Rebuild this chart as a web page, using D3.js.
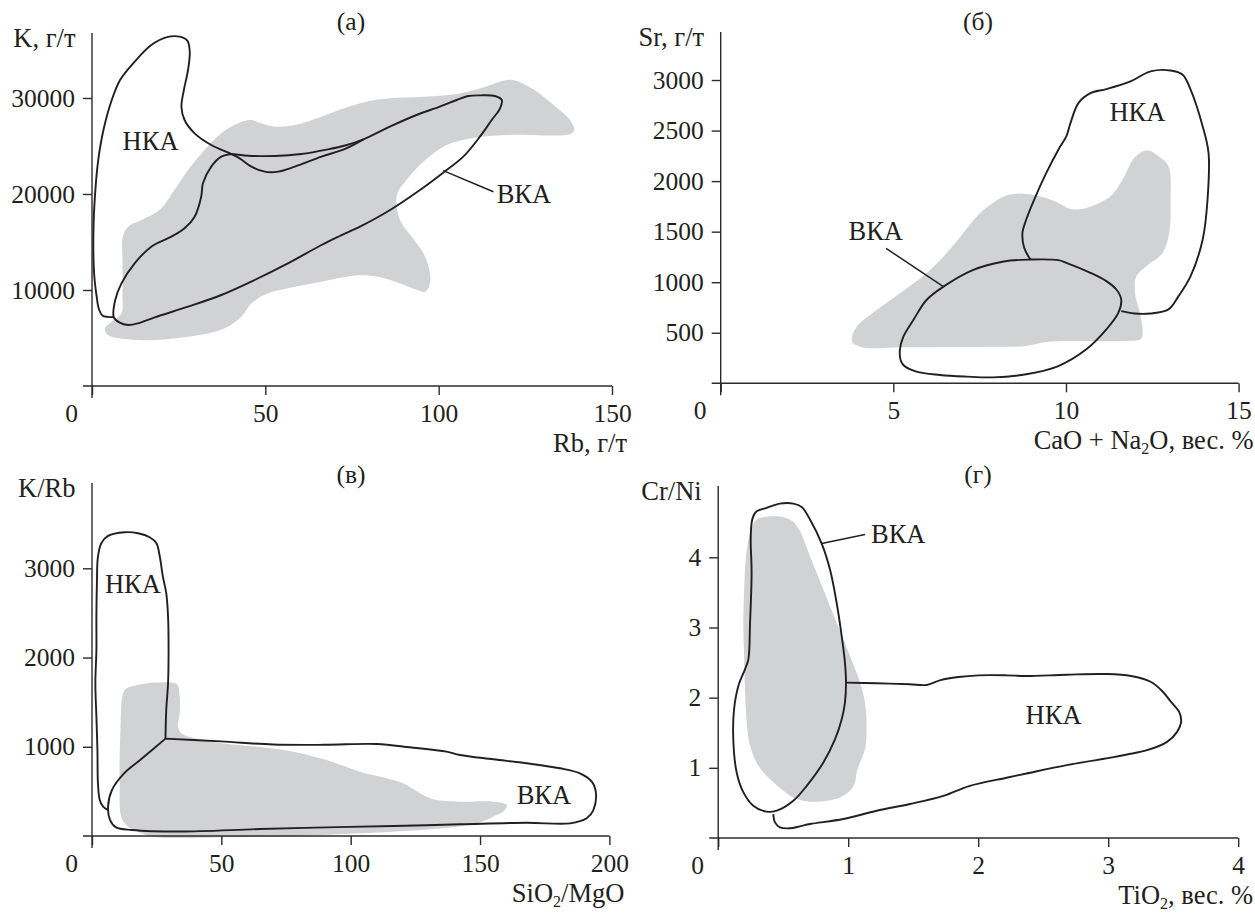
<!DOCTYPE html>
<html>
<head>
<meta charset="utf-8">
<script src="https://cdn.jsdelivr.net/npm/d3@7"></script>
<style>
  body { margin: 0; background: #fff; }
  svg, svg text { font-family: "Liberation Serif", Tinos, "DejaVu Serif", serif !important; }
  svg text { fill: #231f20; }
</style>
</head>
<body>
<svg id="chart" width="1255" height="913" font-family="Liberation Serif, serif"></svg>
<script>
// ---------- panel (а): K vs Rb ----------
var aXTicks = [0, 50, 100, 150];
var aYTicks = [10000, 20000, 30000];
var aGray = [[3.7,6006],[4.6,5312],[10.4,4861],[18.1,4791],[27.7,5138],[35.4,5659],[39.2,6180],[43.1,7222],
  [46,8611],[50.8,9652],[58.5,10347],[66.2,10868],[76,11500],[82,11400],[88,10800],[93,10100],[96.1,9826],
  [97.5,10694],[97.3,12083],[95.6,13818],[92.2,15555],[89.3,16943],[87.9,18679],[88.1,20068],[90.3,21283],
  [95.6,23367],[102.3,25103],[110,25831],[119.6,26144],[137.9,26249],[139.1,26665],[137.9,27706],[133.1,29268],
  [127.3,30900],[121.5,31873],[118.7,31803],[112,31005],[105.2,30415],[95.6,30137],[86,29963],[79.2,29617],
  [73.5,29026],[66.2,28054],[58.5,27186],[52.7,27012],[48.8,27359],[46,27706],[42.1,27359],[37.3,26318],
  [32.5,24582],[27.7,22499],[23.8,20415],[19.5,18332],[14.2,17290],[10.4,16597],[8.9,15555],[8.8,12777],
  [8.8,9305],[8.5,7569],[5.1,6527]];
var aNka = [[6.3,7180],[4.5,7200],[3.0,7350],[2.0,8000],[1.35,9300],[0.6,11740],[0.4,15900],[0.9,20070],
  [1.8,23540],[3.3,26670],[5.7,29790],[8.1,31880],[12.3,33783],[17.1,35519],[21.4,36317],[25.3,36387],
  [27.5,35970],[28.2,34824],[27.7,32915],[26.5,30831],[25.8,29095],[26.7,27706],[29.6,26318],[34.4,25103],
  [40.2,24165],[42.6,23714],[46,22846],[49.8,22325],[53.7,22325],[58.5,22846],[66.2,23888],[73,24700],[78.3,25693]];
var aVka = [[40.2,24165],[45,23991],[52.7,23957],[60.4,24165],[68.1,24651],[73,25050],[78.3,25693],[85.9,27013],
  [93.6,28228],[100.3,29096],[105.2,29790],[108.5,30207],[111.9,30276],[116.2,30207],[118.2,29790],[117.7,28922],
  [115.3,27706],[111.9,25970],[107.1,23888],[101.3,22221],[94.6,20415],[86,18332],[77.3,16597],[71.5,15624],
  [66.2,14687],[56.5,12777],[46.9,11041],[37.3,9479],[27.7,8263],[18.1,7152],[13.3,6527],[10.4,6354],[8,6597],
  [6.3,7152],[6.7,8958],[8.5,10694],[12.3,12777],[17.1,14513],[22.9,15555],[26.7,16423],[29.6,17638],
  [31.5,19721],[32,21110],[34.4,22846],[37.3,23888],[40.2,24165]];
var aLabels = [{text: "НКА", x: 16.9, y: 24584}, {text: "ВКА", x: 124.6, y: 19030}];
var aLeader = [[101.3,22430],[115.8,20240]];

// ---------- panel (б): Sr vs CaO + Na2O ----------
var bXTicks = [0, 5, 10, 15];
var bYTicks = [500, 1000, 1500, 2000, 2500, 3000];
var bGray = [[3.8,450],[3.94,560],[4.52,725],[5.19,890],[5.96,1088],[6.54,1286],[7.02,1484],[7.41,1648],[7.8,1764],
  [8.27,1857],[8.74,1876],[9.32,1843],[9.78,1784],[10.13,1725],[10.59,1735],[11.29,1850],[11.64,2015],[11.98,2229],
  [12.33,2304],[12.68,2245],[12.97,2146],[13.03,1817],[12.99,1488],[12.8,1290],[12.33,1159],[12.04,1060],[12,895],
  [12.16,665],[12.22,500],[12.16,435],[11.75,418],[10.59,418],[9.43,408],[8.85,369],[7.69,362],[6.53,358],
  [5.19,356],[4.42,346],[4.03,362],[3.82,400]];
var bVka = [[6.45,956],[5.96,824],[5.58,626],[5.29,461],[5.19,330],[5.21,231],[5.29,181],[5.67,115],[6.35,82],
  [7.12,66],[7.89,59],[8.85,89],[9.78,171],[10.59,336],[11.17,533],[11.52,698],[11.6,830],[11.46,928],[11.17,1011],
  [10.71,1093],[10.01,1192],[9.78,1218],[8.97,1224],[8.2,1205],[7.3,1120]];
var bNka = [[8.97,1224],[8.79,1340],[8.74,1488],[8.85,1620],[9.08,1817],[9.43,2081],[9.78,2311],[10.01,2443],
  [10.13,2574],[10.36,2772],[10.71,2871],[11.17,2910],[11.87,2986],[12.45,3085],[13.03,3094],[13.38,3052],
  [13.61,2904],[13.96,2541],[14.13,2278],[14.1,1817],[13.96,1422],[13.61,1060],[13.26,862],[12.97,731],
  [12.45,691],[11.98,691],[11.6,714]];
var bLabels = [{text: "НКА", x: 12.07, y: 2590}, {text: "ВКА", x: 4.49, y: 1417}];
var bLeader = [[4.79,1335],[6.45,956]];

// ---------- panel (в): K/Rb vs SiO2/MgO ----------
var cXTicks = [0, 50, 100, 150, 200];
var cYTicks = [1000, 2000, 3000];
var cGray = [[12,1599],[13.3,1655],[17.8,1693],[24.2,1719],[30.7,1719],[33,1693],[33.9,1562],[33.9,1375],
  [33.2,1226],[34.5,1151],[39.7,1095],[50,1039],[62.9,1002],[77.8,945],[90.7,852],[103.6,721],[113.9,647],
  [120.3,591],[126.8,479],[131.9,411],[142.2,385],[155.1,385],[160.3,348],[159.6,291],[155.1,217],[148.7,142],
  [135.8,86],[116.5,48],[103.6,30],[77.8,0],[50,-15],[24.2,-10],[17.8,49],[13.9,105],[11.3,217],[10.7,590],
  [11,1200]];
var cNka = [[6.2,291],[4.3,329],[3,404],[2.3,590],[2.1,964],[1.7,1338],[1.3,1712],[1.7,2085],[1.7,2459],
  [1.9,2833],[2.3,3132],[3.6,3281],[6.2,3363],[12.6,3404],[17.8,3393],[22.3,3348],[24.9,3281],[26.2,3132],
  [27.4,2907],[28.7,2721],[29.4,2459],[29.6,2085],[29.4,1712],[28.7,1413],[28.4,1091]];
var cVka = [[28.4,1091],[50,1060],[70,1025],[90,1022],[110,1031],[122.9,994],[137.1,945],[142.2,908],
  [155.1,860],[168,815],[180.9,759],[188.6,703],[193.2,609],[194.8,479],[193.8,291],[191.2,198],[184.8,142],
  [168,149],[142.2,131],[116.5,112],[90.7,97],[64.9,78],[34.1,50],[15.5,67],[9.3,97],[7,179],[6.2,329],
  [7.7,515],[12.4,702],[18.6,852],[28.4,1091]];
var cLabels = [{text: "НКА", x: 15.8, y: 2721}, {text: "ВКА", x: 174.7, y: 355}];

// ---------- panel (г): Cr/Ni vs TiO2 ----------
var dXTicks = [0, 1, 2, 3, 4];
var dYTicks = [1, 2, 3, 4];
var dGray = [[0.322,4.561],[0.45,4.585],[0.552,4.538],[0.616,4.419],[0.706,4.016],[0.809,3.542],[0.911,3.068],
  [1.014,2.594],[1.091,2.214],[1.129,1.93],[1.142,1.551],[1.129,1.266],[1.091,1.076],[1.065,0.934],[1.052,0.792],
  [1.014,0.673],[0.937,0.578],[0.834,0.531],[0.706,0.517],[0.603,0.555],[0.501,0.673],[0.398,0.839],[0.309,1.029],
  [0.245,1.313],[0.219,1.645],[0.206,2.119],[0.198,2.688],[0.193,3.068],[0.2,3.542],[0.214,4.016],[0.245,4.348],
  [0.283,4.514]];
var dVka = [[0.27,4.585],[0.296,4.656],[0.373,4.704],[0.476,4.765],[0.578,4.765],[0.642,4.718],[0.706,4.538],
  [0.796,4.196],[0.86,3.826],[0.911,3.352],[0.95,2.878],[0.975,2.499],[0.983,2.214],[0.975,1.93],[0.95,1.693],
  [0.899,1.408],[0.809,1.076],[0.681,0.744],[0.578,0.531],[0.45,0.389],[0.373,0.375],[0.27,0.46],[0.194,0.65],
  [0.142,0.934],[0.116,1.408],[0.122,1.835],[0.155,2.167],[0.206,2.404],[0.232,2.546],[0.245,3.068],[0.257,3.779],
  [0.25,4.253],[0.257,4.49]];
var dNka = [[0.424,0.341],[0.437,0.223],[0.475,0.152],[0.552,0.138],[0.629,0.166],[0.706,0.199],[0.963,0.27],
  [1.219,0.389],[1.475,0.484],[1.732,0.6],[1.93,0.74],[2.218,0.858],[2.372,0.919],[2.681,1.038],[3.052,1.156],
  [3.144,1.19],[3.299,1.251],[3.453,1.37],[3.53,1.512],[3.561,1.654],[3.546,1.796],[3.484,1.938],[3.422,2.081],
  [3.33,2.223],[3.175,2.308],[2.99,2.336],[2.681,2.327],[2.372,2.308],[2.218,2.318],[2.002,2.318],[1.847,2.294],
  [1.71,2.25],[1.603,2.181],[1.475,2.19],[1.219,2.205],[0.988,2.214]];
var dLabels = [{text: "НКА", x: 2.58, y: 1.62}, {text: "ВКА", x: 1.385, y: 4.206}];
var dLeader = [[0.796,4.196],[1.129,4.324]];

var svg = d3.select("#chart");
var ink = "#231f20", fillGray = "#d1d2d4", axisInk = "#2b2b2b";
var serif = "Liberation Serif, Tinos, DejaVu Serif, serif";

var panels = [
  {title: "(а)", titleX: 351, titleY: 30, xDomain: [0, 150], xRange: [92, 612], yDomain: [0, 36770], yRange: [386, 33],
   xTicks: aXTicks, yTicks: aYTicks, yTitle: "K, г/т", xTitle: [["Rb, г/т"]],
   gray: aGray, closed: [], open: [aNka, aVka], labels: aLabels, leader: aLeader},
  {title: "(б)", titleX: 978, titleY: 30, xDomain: [0, 15], xRange: [720.7, 1238.6], yDomain: [0, 3475], yRange: [383.3, 32],
   xTicks: bXTicks, yTicks: bYTicks, yTitle: "Sr, г/т", xTitle: [["CaO + Na"], ["2", "sub"], ["O, вес. %"]],
   gray: bGray, closed: [bVka], open: [bNka], labels: bLabels, leader: bLeader},
  {title: "(в)", titleX: 351, titleY: 483, xDomain: [0, 200], xRange: [92, 609.4], yDomain: [0, 3956], yRange: [836, 483],
   xTicks: cXTicks, yTicks: cYTicks, yTitle: "K/Rb", xTitle: [["SiO"], ["2", "sub"], ["/MgO"]],
   gray: cGray, closed: [], open: [cVka, cNka], labels: cLabels, leader: null},
  {title: "(г)", titleX: 978, titleY: 483, xDomain: [0, 4], xRange: [718.2, 1238.2], yDomain: [0, 5.016], yRange: [838, 486],
   xTicks: dXTicks, yTicks: dYTicks, yTitle: "Cr/Ni", xTitle: [["TiO"], ["2", "sub"], [", вес. %"]],
   gray: dGray, closed: [dVka], open: [dNka], labels: dLabels, leader: dLeader}
];

panels.forEach(function(p) {
  var g = svg.append("g").attr("font-family", serif);
  var x = d3.scaleLinear().domain(p.xDomain).range(p.xRange);
  var y = d3.scaleLinear().domain(p.yDomain).range(p.yRange);

  var closedLine = d3.line().x(d => x(d[0])).y(d => y(d[1])).curve(d3.curveCatmullRomClosed.alpha(0.5));
  var openLine = d3.line().x(d => x(d[0])).y(d => y(d[1])).curve(d3.curveCatmullRom.alpha(0.5));

  // grey field
  g.append("path").datum(p.gray)
    .attr("d", closedLine)
    .attr("fill", fillGray)
    .attr("stroke", "none");

  p.closed.forEach(function(pts) {
    g.append("path").datum(pts)
      .attr("d", closedLine)
      .attr("fill", "none").attr("stroke", ink).attr("stroke-width", 1.9)
      .attr("stroke-linejoin", "round");
  });
  p.open.forEach(function(pts) {
    g.append("path").datum(pts)
      .attr("d", openLine)
      .attr("fill", "none").attr("stroke", ink).attr("stroke-width", 1.9)
      .attr("stroke-linejoin", "round");
  });

  if (p.leader) {
    g.append("line")
      .attr("x1", x(p.leader[0][0])).attr("y1", y(p.leader[0][1]))
      .attr("x2", x(p.leader[1][0])).attr("y2", y(p.leader[1][1]))
      .attr("stroke", ink).attr("stroke-width", 1.5);
  }

  g.selectAll(".region").data(p.labels).enter().append("text")
    .attr("class", "region")
    .attr("x", d => x(d.x))
    .attr("y", d => y(d.y))
    .attr("text-anchor", "middle")
    .attr("font-size", 26.5)
    .text(d => d.text);

  // axes
  var x0 = x(0), y0 = y(0);
  var xAxis = g.append("g")
    .attr("transform", "translate(0," + y0 + ")")
    .call(d3.axisBottom(x).tickValues(p.xTicks).tickSize(9).tickPadding(9).tickFormat(d3.format("d")));
  xAxis.select(".domain").remove();
  xAxis.attr("font-family", serif).attr("font-size", 25.5).attr("color", axisInk);
  xAxis.selectAll(".tick line").attr("stroke-width", 1.4);
  xAxis.selectAll(".tick text").filter(d => d === 0).attr("x", -21);

  var yAxis = g.append("g")
    .attr("transform", "translate(" + x0 + ",0)")
    .call(d3.axisLeft(y).tickValues(p.yTicks).tickSize(9).tickPadding(8).tickFormat(d3.format("d")));
  yAxis.select(".domain").remove();
  yAxis.attr("font-family", serif).attr("font-size", 25.5).attr("color", axisInk);
  yAxis.selectAll(".tick line").attr("stroke-width", 1.4);

  g.append("line")
    .attr("x1", x0 - 9).attr("x2", p.xRange[1]).attr("y1", y0).attr("y2", y0)
    .attr("stroke", axisInk).attr("stroke-width", 1.4);
  g.append("line")
    .attr("x1", x0).attr("x2", x0).attr("y1", y0 + 12).attr("y2", p.yRange[1])
    .attr("stroke", axisInk).attr("stroke-width", 1.4);

  // titles
  g.append("text")
    .attr("x", p.titleX).attr("y", p.titleY)
    .attr("text-anchor", "middle").attr("font-size", 25.5)
    .text(p.title);

  g.append("text")
    .attr("x", x0 - 16.5).attr("y", p.yRange[1] + 14)
    .attr("text-anchor", "end").attr("font-size", 26.5)
    .text(p.yTitle);

  var xt = g.append("text")
    .attr("x", p.xRange[1] + 15).attr("y", y0 + 66)
    .attr("text-anchor", "end").attr("font-size", 26.5);
  p.xTitle.forEach(function(part, i) {
    var ts = xt.append("tspan").text(part[0]);
    if (part[1] === "sub") {
      ts.attr("font-size", 16).attr("dy", 5);
    } else if (i > 0) {
      ts.attr("dy", -5);
    }
  });
});
</script>
</body>
</html>
